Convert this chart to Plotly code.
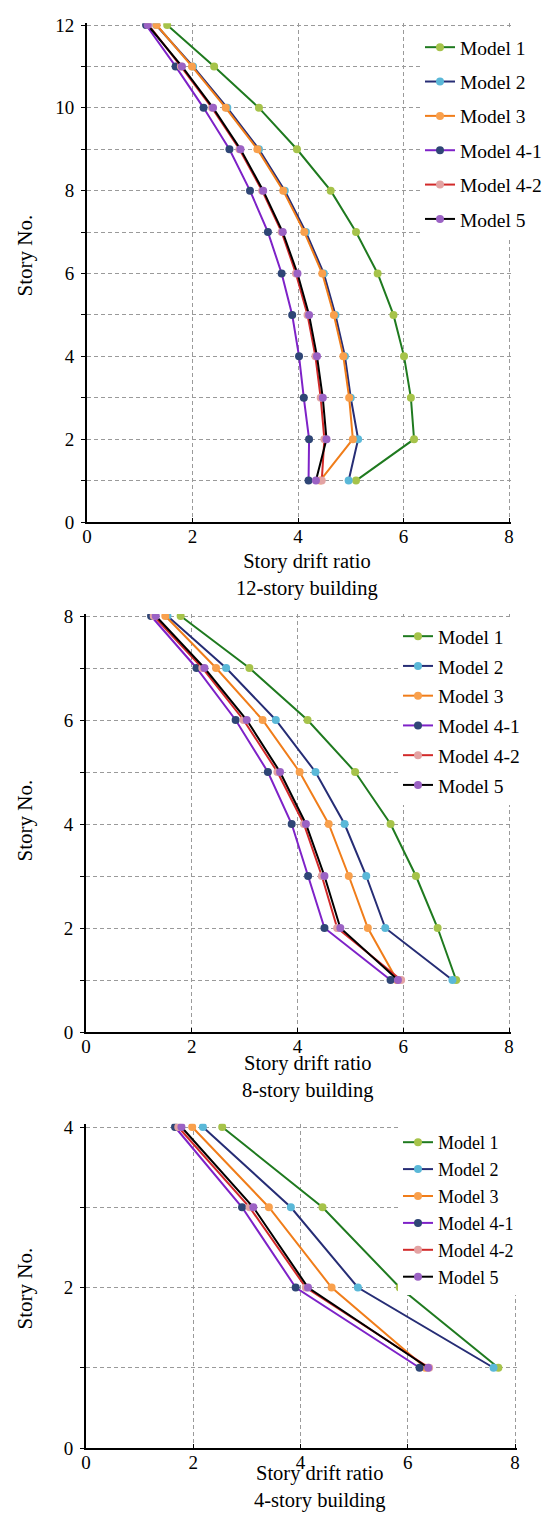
import plotly.graph_objects as go

# The page body has an 8px margin, so the figure is drawn 8px in from the
# window's top-left corner; positions below are given in window pixels and
# converted to figure pixels.
OFF = 8
W, H = 552 - 2 * OFF, 1520 - 2 * OFF
FONT = "Liberation Serif, Times New Roman, serif"

models = ["Model 1", "Model 2", "Model 3", "Model 4-1", "Model 4-2", "Model 5"]
line_colors = ["#1f7a1f", "#262d75", "#f07d1a", "#7e22c8", "#d22a2a", "#000000"]
marker_colors = ["#a6c34a", "#5ab8d8", "#f9a04c", "#2f4676", "#e3a3a3", "#9b62c4"]

# ---- 12-story building (story 1 -> 12) ----
stories_12 = [1, 2, 3, 4, 5, 6, 7, 8, 9, 10, 11, 12]
m1_12 = [5.10, 6.20, 6.14, 6.01, 5.81, 5.51, 5.10, 4.62, 3.98, 3.26, 2.41, 1.52]
m2_12 = [4.96, 5.14, 5.00, 4.89, 4.71, 4.49, 4.15, 3.75, 3.26, 2.66, 2.01, 1.31]
m3_12 = [4.42, 5.04, 4.97, 4.86, 4.68, 4.46, 4.12, 3.72, 3.23, 2.63, 1.99, 1.32]
m41_12 = [4.20, 4.21, 4.11, 4.02, 3.89, 3.69, 3.43, 3.09, 2.70, 2.21, 1.68, 1.12]
m42_12 = [4.45, 4.50, 4.43, 4.33, 4.18, 3.96, 3.69, 3.32, 2.89, 2.37, 1.78, 1.17]
m5_12 = [4.34, 4.54, 4.47, 4.36, 4.21, 3.99, 3.71, 3.34, 2.91, 2.39, 1.80, 1.15]

# ---- 8-story building (story 1 -> 8) ----
stories_8 = [1, 2, 3, 4, 5, 6, 7, 8]
m1_8 = [7.00, 6.65, 6.24, 5.76, 5.09, 4.19, 3.09, 1.79]
m2_8 = [6.93, 5.66, 5.30, 4.89, 4.34, 3.59, 2.65, 1.54]
m3_8 = [5.88, 5.33, 4.97, 4.59, 4.04, 3.34, 2.46, 1.50]
m41_8 = [5.76, 4.51, 4.20, 3.89, 3.44, 2.83, 2.09, 1.23]
m42_8 = [5.96, 4.75, 4.46, 4.12, 3.62, 2.98, 2.20, 1.28]
m5_8 = [5.90, 4.81, 4.51, 4.16, 3.67, 3.04, 2.24, 1.32]

# ---- 4-story building (story 1 -> 4) ----
stories_4 = [1, 2, 3, 4]
m1_4 = [7.69, 5.85, 4.41, 2.54]
m2_4 = [7.60, 5.07, 3.82, 2.18]
m3_4 = [6.33, 4.58, 3.41, 1.98]
m41_4 = [6.22, 3.91, 2.91, 1.66]
m42_4 = [6.40, 4.10, 3.05, 1.72]
m5_4 = [6.38, 4.14, 3.12, 1.78]

x_ticks = [0, 2, 4, 6, 8]

panels = [
    dict(stories=stories_12, series=[m1_12, m2_12, m3_12, m41_12, m42_12, m5_12],
         ymax=12, box=(87, 509, 25, 522), caption="12-story building",
         leg=dict(x=420, y=28, size=19.5, gap=6), title_x=307, title_y=575, ytitle_y=256),
    dict(stories=stories_8, series=[m1_8, m2_8, m3_8, m41_8, m42_8, m5_8],
         ymax=8, box=(86, 509, 616, 1032), caption="8-story building",
         leg=dict(x=398, y=617, size=19.5, gap=1.4), title_x=308, title_y=1077, ytitle_y=821),
    dict(stories=stories_4, series=[m1_4, m2_4, m3_4, m41_4, m42_4, m5_4],
         ymax=4, box=(86, 515, 1127, 1448), caption="4-story building",
         leg=dict(x=398, y=1124, size=18, gap=0.5), title_x=320, title_y=1487, ytitle_y=1289),
]


def fx(px):
    return (px - OFF) / W


def fy(py):
    return 1 - (py - OFF) / H


fig = go.Figure()
layout = dict(
    width=W, height=H,
    margin=dict(l=0, r=0, t=0, b=0, autoexpand=False),
    paper_bgcolor="white", plot_bgcolor="white",
    font=dict(family=FONT, size=19, color="black"),
    annotations=[],
)

XPAD, YPAD = 0.03, 0.04
for i, p in enumerate(panels):
    n = i + 1
    sfx = "" if n == 1 else str(n)
    leg_id = "legend" if n == 1 else f"legend{n}"
    x0, x1, y0, y1 = p["box"]
    xscale = (x1 - x0) / 8.0
    yscale = (y1 - y0) / p["ymax"]
    xr = 8 + XPAD
    yr = p["ymax"] + YPAD
    xdom = [fx(x0), fx(x1 + XPAD * xscale)]
    ydom = [fy(y1), fy(y0 - YPAD * yscale)]

    for k, (name, vals) in enumerate(zip(models, p["series"])):
        fig.add_trace(go.Scatter(
            x=vals, y=p["stories"], name=name, mode="lines+markers",
            line=dict(color=line_colors[k], width=2),
            marker=dict(color=marker_colors[k], size=8),
            xaxis="x" + sfx, yaxis="y" + sfx,
            legend=leg_id, legendgroup=f"p{n}_{k}",
        ))

    grid = dict(showgrid=True, gridcolor="#9a9a9a", gridwidth=1, griddash="4px,3px")
    layout["xaxis" + sfx] = dict(
        domain=xdom, range=[0, xr], anchor="y" + sfx,
        tickvals=x_ticks, ticktext=[str(t) for t in x_ticks],
        ticks="inside", ticklen=4, tickcolor="black", tickwidth=1,
        showline=True, linecolor="black", linewidth=2, zeroline=False,
        tickfont=dict(family=FONT, size=19, color="black"),
        ticklabelstandoff=-4,
        **grid,
    )
    layout["yaxis" + sfx] = dict(
        domain=ydom, range=[0, yr], anchor="x" + sfx,
        tick0=0, dtick=2,
        ticks="outside", ticklen=4, tickcolor="black", tickwidth=1,
        showline=True, linecolor="black", linewidth=2, zeroline=False,
        tickfont=dict(family=FONT, size=19, color="black"),
        minor=dict(dtick=1, showgrid=True, gridcolor="#9a9a9a", griddash="4px,3px",
                   ticks="outside", ticklen=4, tickcolor="black"),
        ticklabelstandoff=3,
        **grid,
    )
    lg = p["leg"]
    layout[leg_id] = dict(
        x=fx(lg["x"]), y=fy(lg["y"]), xanchor="left", yanchor="top",
        bgcolor="white", borderwidth=0,
        font=dict(family=FONT, size=lg["size"], color="black"),
        traceorder="grouped", tracegroupgap=lg["gap"],
    )
    layout["annotations"].append(dict(
        text=f"Story drift ratio<br>{p['caption']}",
        xref="paper", yref="paper", x=fx(p["title_x"]), y=fy(p["title_y"]),
        xanchor="center", yanchor="middle", showarrow=False,
        font=dict(family=FONT, size=20.5, color="black"),
    ))
    layout["annotations"].append(dict(
        text="Story No.", textangle=-90,
        xref="paper", yref="paper", x=fx(24.5), y=fy(p["ytitle_y"]),
        xanchor="center", yanchor="middle", showarrow=False,
        font=dict(family=FONT, size=21, color="black"),
    ))

fig.update_layout(**layout)
fig.write_html("out.html")
